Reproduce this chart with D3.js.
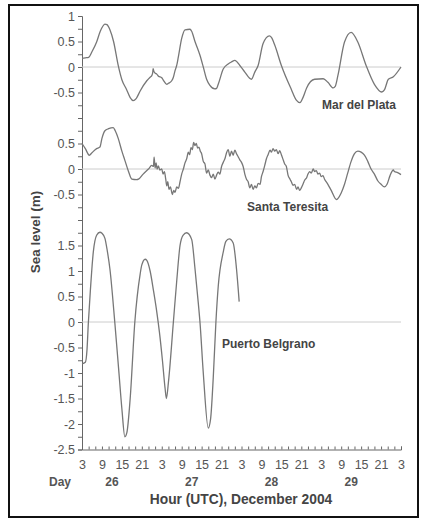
<!DOCTYPE html>
<meta charset="utf-8">
<title>Sea level, December 2004</title>
<style>
body { margin: 0; background: #fff; }
svg text { font-family: "Liberation Sans", Arial, sans-serif; }
.tick text { fill: #555; font-size: 12.5px; }
.domain, .tick line { stroke: #666; }
.zero { stroke: #ccc; stroke-width: 1; }
.series { fill: none; stroke: #777; stroke-width: 1.3; }
.lbl { fill: #444; font-size: 12px; font-weight: bold; }
</style>
<body>
<div id="chart"></div>
<script src="https://d3js.org/d3.v7.min.js"></script>
<script>

// hours counted from 26 Dec 2004 00:00 UTC, sea level in metres
var marDelPlata = [
  [3, 0.17], [4, 0.18], [5, 0.19], [6, 0.3], [7.4, 0.49], [8.5, 0.7], [9.9, 0.84], [10.5, 0.83],
  [11.4, 0.73], [12.5, 0.5], [13.9, 0.03], [15, -0.25], [16.4, -0.44], [17.5, -0.6], [18.4, -0.66],
  [19.3, -0.62], [20.5, -0.47], [22.5, -0.27], [23.5, -0.2], [24, -0.17], [24.3, -0.1], [24.4, -0.03],
  [24.6, -0.08], [25, -0.12], [25.5, -0.14], [26, -0.18], [27, -0.21], [27.5, -0.26], [28.5, -0.34],
  [29, -0.32], [30, -0.27], [30.5, -0.2], [31, -0.07], [31.5, 0.03], [32, 0.2], [33, 0.56], [34, 0.73],
  [35.5, 0.74], [36, 0.7], [37, 0.5], [38.5, 0.23], [39.5, 0.0], [40.5, -0.24], [41.5, -0.36], [43, -0.43],
  [43.5, -0.42], [44, -0.34], [45.5, -0.04], [47, 0.06], [48, 0.1], [49, 0.13], [50.5, 0.03], [52, -0.1],
  [54, -0.24], [55, -0.1], [56, 0.03], [57.5, 0.46], [59.4, 0.61], [60, 0.58], [61, 0.43], [63, 0.03],
  [66, -0.44], [67.5, -0.65], [68.6, -0.7], [69.5, -0.6], [70.6, -0.41], [73, -0.24], [75.6, -0.23],
  [77, -0.3], [78.6, -0.41], [79.2, -0.38], [80, -0.17], [82, 0.49], [84, 0.68], [86, 0.49], [88.5, 0.03],
  [91, -0.34], [93.2, -0.49], [94, -0.45], [95.2, -0.24], [96.7, -0.19], [99, 0.0]
];

var santaTeresita = [
  [3, 0.5], [4, 0.4], [5.2, 0.27], [6, 0.32], [7.4, 0.4], [8.4, 0.43], [9, 0.6], [9.9, 0.75], [11, 0.79],
  [12.4, 0.81], [13, 0.75], [13.9, 0.6], [15, 0.35], [15.9, 0.17], [17, -0.05], [18, -0.2], [19.4, -0.21],
  [20, -0.2], [21.4, -0.1], [23, 0.0], [24, 0.07], [24.5, 0.05], [24.7, 0.23], [25, 0.02], [25.3, 0.12],
  [25.6, 0.0], [26, 0.06], [26.4, -0.02], [27, 0.0], [27.4, -0.1], [27.8, -0.05], [28.2, -0.2], [28.5, -0.33],
  [28.8, -0.25], [29.2, -0.4], [29.6, -0.35], [30.2, -0.5], [30.6, -0.42], [31, -0.46], [31.5, -0.35],
  [32, -0.38], [32.5, -0.25], [33, -0.1], [33.5, 0.0], [34, 0.12], [34.5, 0.2], [35, 0.33], [35.4, 0.28],
  [35.8, 0.42], [36.2, 0.38], [36.6, 0.52], [37, 0.46], [37.4, 0.5], [37.8, 0.41], [38.2, 0.43], [38.6, 0.35],
  [39, 0.3], [39.5, 0.15], [40, 0.1], [40.5, -0.08], [41, -0.02], [41.5, -0.12], [42, -0.17], [42.5, -0.1],
  [43, -0.2], [43.5, -0.12], [44, -0.06], [44.5, -0.1], [45, 0.05], [45.5, 0.13], [46, 0.2], [46.5, 0.32],
  [47, 0.38], [47.5, 0.25], [48, 0.35], [48.5, 0.27], [49, 0.37], [49.5, 0.3], [50, 0.24], [50.5, 0.18],
  [51, 0.13], [51.5, 0.05], [52, -0.1], [52.5, -0.2], [53, -0.25], [53.5, -0.37], [54, -0.3], [54.5, -0.4],
  [55, -0.33], [55.5, -0.37], [56, -0.28], [56.6, -0.3], [57, -0.15], [57.5, -0.05], [58, 0.07], [58.5, 0.2],
  [59, 0.28], [59.6, 0.37], [60, 0.33], [60.5, 0.4], [61, 0.35], [61.5, 0.38], [62, 0.3], [62.5, 0.36],
  [63, 0.28], [63.6, 0.17], [64, 0.1], [64.5, 0.05], [65, -0.12], [65.6, -0.2], [66, -0.25], [66.5, -0.32],
  [67, -0.3], [67.6, -0.4], [68, -0.35], [68.5, -0.42], [69, -0.37], [69.5, -0.3], [70, -0.22], [70.6, -0.17],
  [71, -0.1], [71.5, -0.05], [72, -0.08], [72.6, 0.0], [73, -0.05], [73.5, -0.03], [74, -0.1], [74.5, -0.08],
  [75, -0.15], [75.5, -0.13], [76, -0.2], [77, -0.3], [78, -0.42], [79.6, -0.6], [80, -0.58], [81, -0.47],
  [82, -0.3], [83, -0.07], [84, 0.15], [85, 0.3], [86, 0.35], [87, 0.33], [88, 0.27], [89, 0.15], [90, 0.0],
  [91, -0.1], [92, -0.23], [93, -0.3], [94, -0.35], [94.8, -0.3], [95.7, -0.13], [96.7, -0.02], [97, -0.05],
  [98, -0.07], [99, -0.11]
];

var puertoBelgrano = [
  [3, -0.82], [4, -0.79], [4.5, -0.55], [4.9, -0.03], [5.5, 0.6], [6.4, 1.37], [7.4, 1.7], [8.4, 1.76],
  [9, 1.74], [9.9, 1.64], [10.6, 1.4], [11.4, 1.04], [12.9, -0.03], [14, -0.9], [15, -1.7], [15.9, -2.25],
  [16.5, -2.17], [17.5, -1.5], [18.9, 0.0], [20.5, 0.94], [21, 1.12], [22, 1.23], [22.5, 1.21], [23.5, 1.0],
  [24.5, 0.62], [25.5, 0.2], [26.3, -0.2], [27.2, -0.75], [28, -1.3], [28.4, -1.5], [29, -1.19], [30.5, 0.0],
  [31.5, 0.8], [32.5, 1.5], [33.4, 1.7], [34.5, 1.75], [36, 1.62], [37, 1.05], [38, 0.37], [38.5, 0.0],
  [39.5, -1.0], [41, -2.08], [41.7, -1.9], [42.5, -1.09], [43.3, 0.0], [44, 0.7], [45.5, 1.37], [46.3, 1.58],
  [47.3, 1.63], [48.5, 1.55], [49.5, 1.04], [50.3, 0.4]
];

// station names, vertical offsets (m) and tick labels of each strip
var stations = ["Mar del Plata", "Santa Teresita", "Puerto Belgrano"];
var offsets = [5, 3, 0];
var stationTicks = [
  [1, 0.5, 0, -0.5],
  [0.5, 0, -0.5],
  [1.5, 1, 0.5, 0, -0.5, -1, -1.5, -2, -2.5]
];
var hourTicks = [3, 9, 15, 21, 27, 33, 39, 45, 51, 57, 63, 69, 75, 81, 87, 93, 99];
var days = [26, 27, 28, 29];

var width = 423, height = 521;

var svg = d3.select("#chart").append("svg")
    .attr("width", width)
    .attr("height", height);

// frame
svg.append("rect")
    .attr("x", 9).attr("y", 5)
    .attr("width", 409).attr("height", 512)
    .attr("fill", "none")
    .attr("stroke", "#111")
    .attr("stroke-width", 2);

var x = d3.scaleLinear().domain([3, 99]).range([82, 401]);
var y = d3.scaleLinear().domain([-2.5, 6]).range([449.5, 16]);

// y tick labels: value + offset -> label text
var labelAt = {};
stationTicks.forEach(function(ts, i) {
    ts.forEach(function(t) { labelAt[(t + offsets[i]).toFixed(2)] = t; });
});

svg.append("g")
    .attr("transform", "translate(82,0)")
    .call(d3.axisLeft(y)
        .tickValues(d3.range(-2.5, 6.001, 0.25))
        .tickSize(4)
        .tickPadding(3)
        .tickFormat(function(d) {
            var k = d.toFixed(2);
            return k in labelAt ? String(labelAt[k]) : "";
        }));

svg.append("g")
    .attr("transform", "translate(0,449.5)")
    .call(d3.axisBottom(x)
        .tickValues(d3.range(3, 99.001, 2))
        .tickSize(-3)
        .tickPadding(11)
        .tickFormat(function(d) { return hourTicks.indexOf(d) >= 0 ? String(d % 24) : ""; }));

svg.selectAll(".domain").attr("stroke", "#666");

// zero lines
svg.append("g").selectAll("line")
    .data(offsets)
    .enter().append("line")
    .attr("class", "zero")
    .attr("x1", x(3)).attr("x2", x(99))
    .attr("y1", function(d) { return y(d); })
    .attr("y2", function(d) { return y(d); });

var line = d3.line()
    .x(function(d) { return x(d[0]); })
    .curve(d3.curveMonotoneX);

[marDelPlata, santaTeresita, puertoBelgrano].forEach(function(s, i) {
    svg.append("path")
        .attr("class", "series")
        .attr("d", line.y(function(d) { return y(d[1] + offsets[i]); })(s));
});

// station names
var namePos = [[322, 4.25], [247, 2.25], [222, -0.42]];
svg.append("g").selectAll("text")
    .data(stations)
    .enter().append("text")
    .attr("class", "lbl")
    .attr("x", function(d, i) { return namePos[i][0]; })
    .attr("y", function(d, i) { return y(namePos[i][1]); })
    .attr("dy", "0.35em")
    .text(function(d) { return d; });

// day row
svg.append("text")
    .attr("class", "lbl")
    .attr("x", 60).attr("y", 486)
    .attr("text-anchor", "middle")
    .style("fill", "#555")
    .text("Day");

svg.append("g").selectAll("text")
    .data(days)
    .enter().append("text")
    .attr("class", "lbl")
    .attr("x", function(d, i) { return x(12 + 24 * i); })
    .attr("y", 486)
    .attr("text-anchor", "middle")
    .style("fill", "#555")
    .text(function(d) { return d; });

// axis titles
svg.append("text")
    .attr("class", "lbl")
    .attr("x", 241).attr("y", 504)
    .attr("text-anchor", "middle")
    .style("font-size", "13.8px")
    .text("Hour (UTC), December 2004");

svg.append("text")
    .attr("class", "lbl")
    .attr("transform", "translate(40,232) rotate(-90)")
    .attr("text-anchor", "middle")
    .style("font-size", "13.5px")
    .text("Sea level (m)");

</script>
</body>
